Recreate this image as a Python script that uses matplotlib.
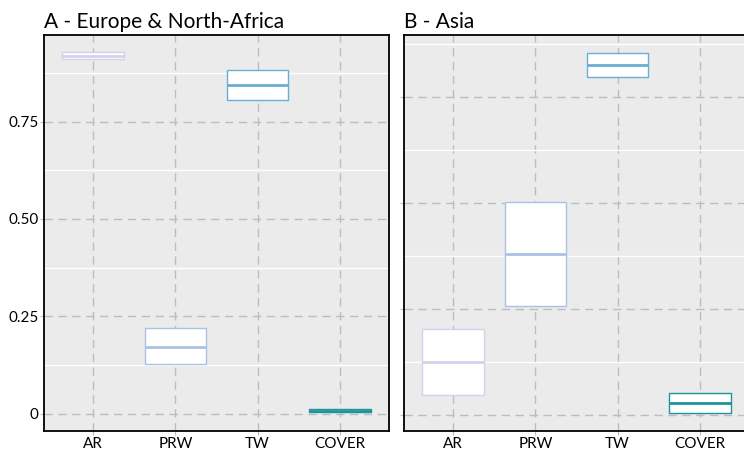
import matplotlib
matplotlib.use('Agg')
import matplotlib.pyplot as plt

plt.rcParams['font.family'] = ['Lato', 'DejaVu Sans']

# ---- data ----
categories = ["AR", "PRW", "TW", "COVER"]
box_colors = ["#d2d2ea", "#aac2e2", "#6aaed6", "#1c959b"]

panel_titles = ["A - Europe & North-Africa", "B - Asia"]

# Europe & North-Africa
eu_q1 = [0.909, 0.128, 0.805, 0.004]
eu_med = [0.918, 0.172, 0.844, 0.008]
eu_q3 = [0.927, 0.220, 0.883, 0.012]

# Asia
as_q1 = [0.047, 0.257, 0.798, 0.004]
as_med = [0.126, 0.380, 0.825, 0.028]
as_q3 = [0.202, 0.502, 0.853, 0.053]

major_ticks = [0, 0.25, 0.5, 0.75]
major_labels = ["0", "0.25", "0.50", "0.75"]
minor_ticks = [0.125, 0.375, 0.625, 0.875]

W, H = 744, 450
fig = plt.figure(figsize=(W / 100, H / 100), dpi=100)


def draw_panel(rect, title, q1, med, q3, ylim, show_labels):
    ax = fig.add_axes(rect)
    ax.set_facecolor("#ebebeb")
    stats = []
    for c, a, m, b in zip(categories, q1, med, q3):
        stats.append({"label": c, "q1": a, "med": m, "q3": b,
                      "whislo": a, "whishi": b, "fliers": []})
    bp = ax.bxp(stats, positions=range(1, len(categories) + 1), widths=0.75,
                patch_artist=True, showcaps=False, zorder=3)
    for i, col in enumerate(box_colors):
        bp["boxes"][i].set(facecolor="white", edgecolor=col, linewidth=1.0)
        bp["medians"][i].set(color=col, linewidth=2.0)
    for w in bp["whiskers"]:
        w.set_visible(False)

    ax.set_xlim(0.4, 4.6)
    ax.set_ylim(*ylim)
    ax.set_yticks(major_ticks)
    ax.set_yticks(minor_ticks, minor=True)
    if show_labels:
        ax.set_yticklabels(major_labels)
    else:
        ax.set_yticklabels([])
    ax.grid(which="major", color="#bdbdbd", linestyle=(0, (6, 4)), linewidth=1.0, zorder=1)
    ax.grid(which="minor", axis="y", color="white", linestyle="-", linewidth=1.0, zorder=1)
    ax.set_axisbelow(True)
    ax.tick_params(which="major", length=3, color="#bdbdbd", labelsize=11,
                   labelcolor="black", pad=1)
    ax.tick_params(which="minor", length=0)
    for s in ax.spines.values():
        s.set_color("black")
        s.set_linewidth(1.3)
    ax.set_title(title, loc="left", fontsize=15, pad=5)
    return ax


top, bottom = 35, 431
draw_panel([44 / W, 1 - bottom / H, 345 / W, (bottom - top) / H],
           panel_titles[0], eu_q1, eu_med, eu_q3, (-0.0436, 0.9718), True)
draw_panel([404 / W, 1 - bottom / H, 345 / W, (bottom - top) / H],
           panel_titles[1], as_q1, as_med, as_q3, (-0.0377, 0.896), False)

fig.savefig("out.png", dpi=100)
